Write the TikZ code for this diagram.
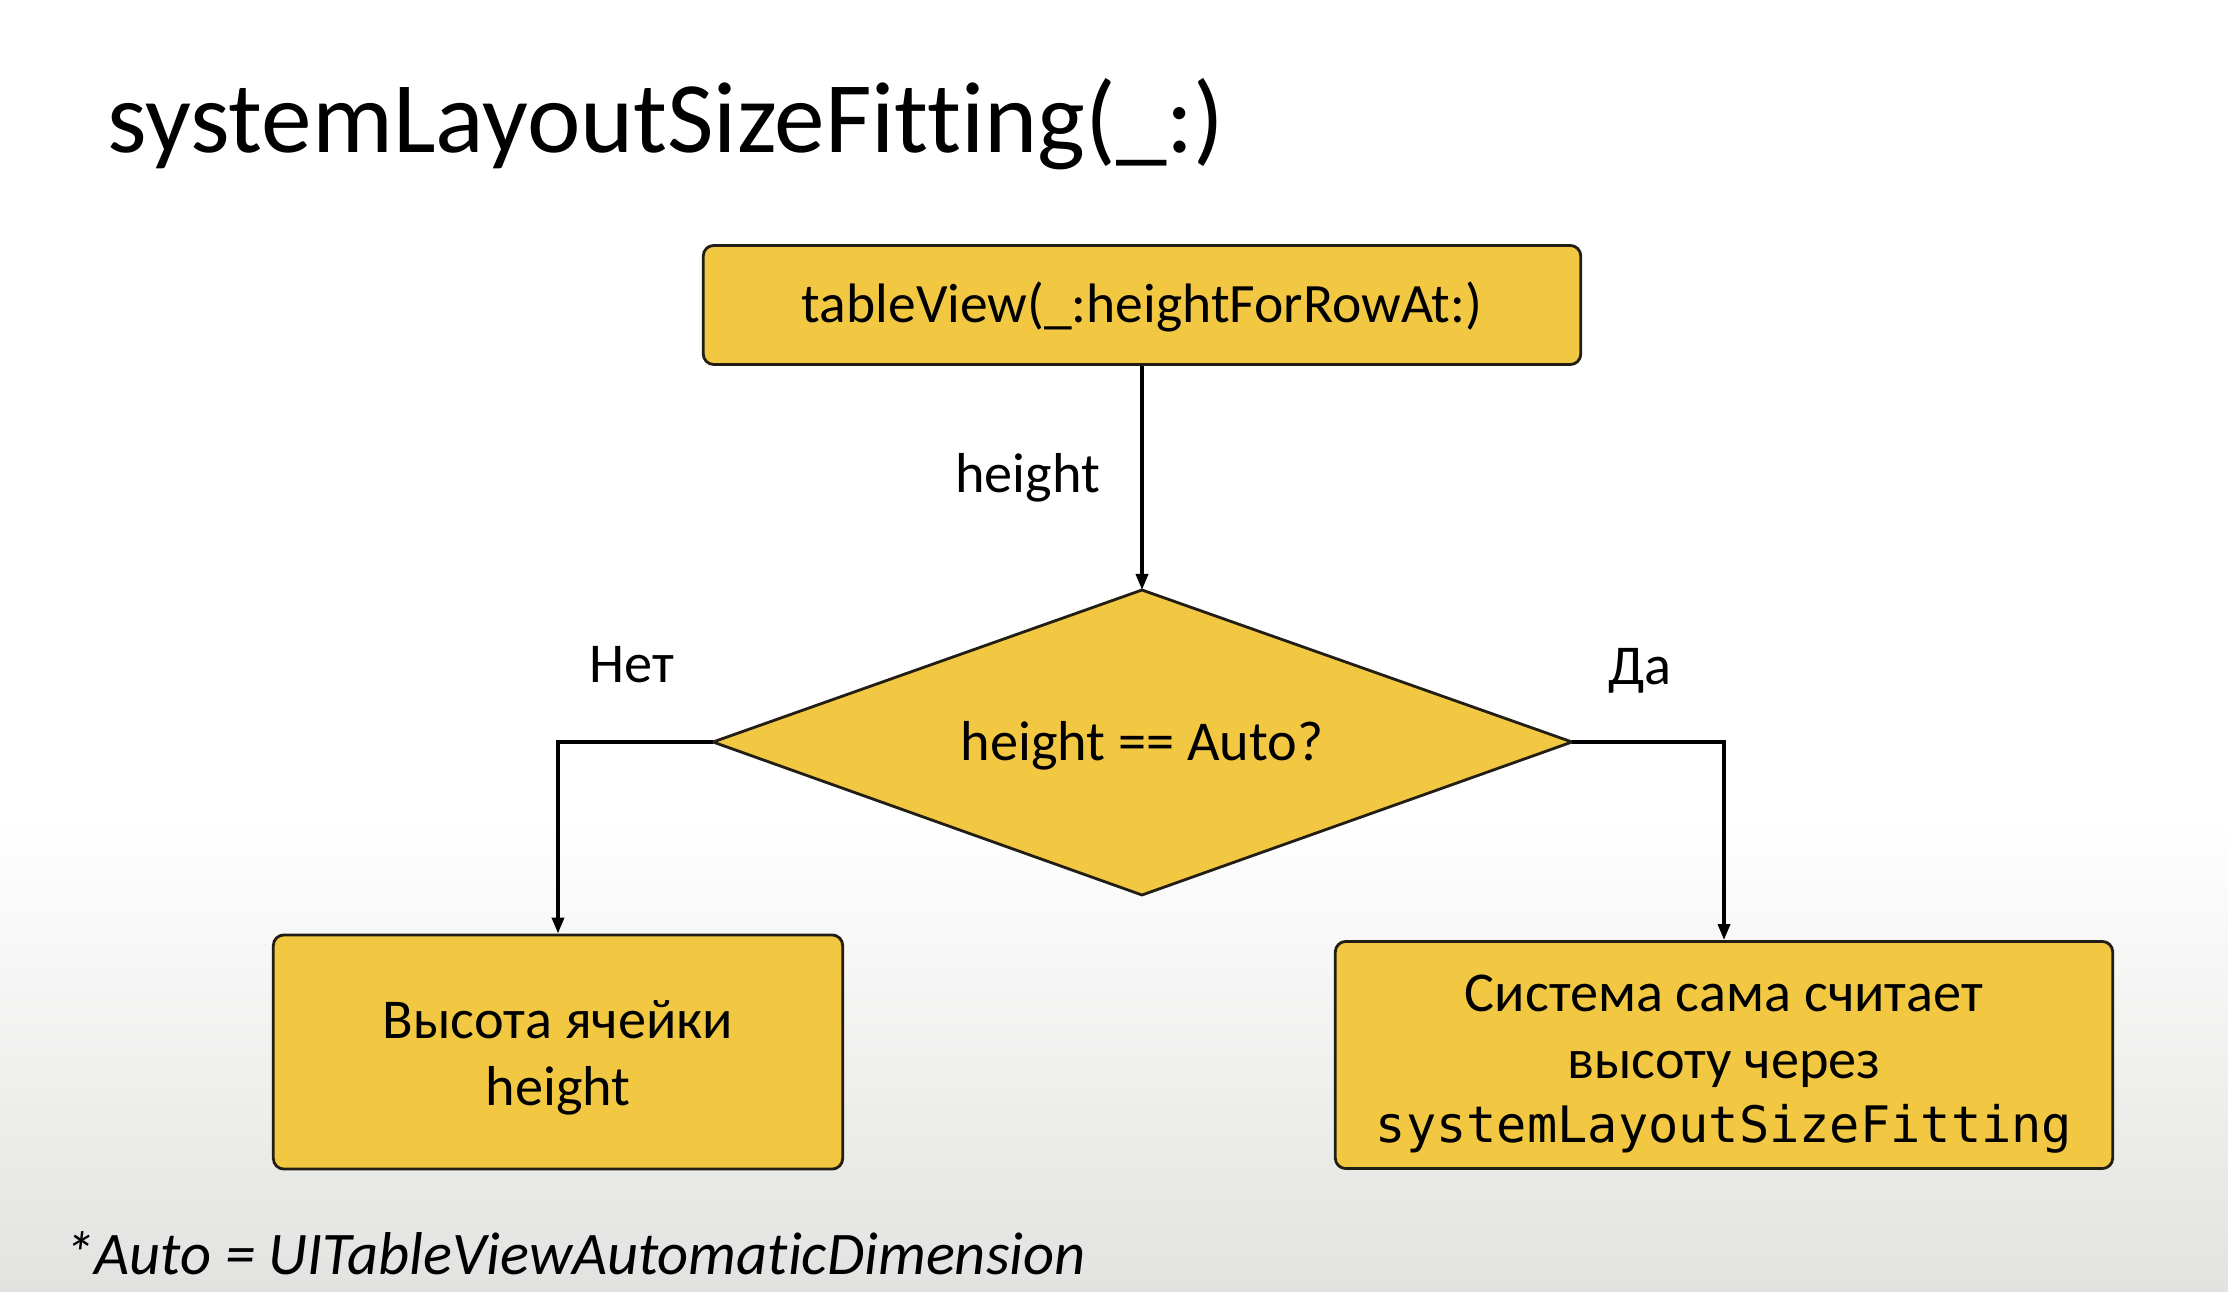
\documentclass[tikz,border=0pt]{standalone}
\usepackage{fontspec}
\setmainfont{Carlito}[Ligatures=NoCommon]
\setmonofont{DejaVu Sans Mono}
\usetikzlibrary{arrows.meta}
\definecolor{boxfill}{RGB}{242,200,66}
\definecolor{boxline}{RGB}{35,30,20}
\definecolor{bggray}{RGB}{226,226,224}
\tikzset{
  flowbox/.style={draw=boxline, fill=boxfill, line width=0.8pt, rounded corners=3pt,
    align=center, inner sep=0pt, font=\fontsize{16}{19}\selectfont},
  decisionshape/.style={draw=boxline, fill=boxfill, line width=0.8pt, line join=miter},
  decisiontext/.style={inner sep=0pt, font=\fontsize{16}{19}\selectfont},
  flowarrow/.style={draw=black, line width=1pt, -{Triangle[length=0.16cm,width=0.12cm]}},
  edgelabel/.style={font=\fontsize{16}{19}\selectfont, inner sep=0pt},
  heading/.style={font=\fontsize{28.8}{34}\selectfont, inner sep=0pt},
  footnote/.style={font=\fontsize{17.2}{20}\selectfont\itshape, inner sep=0pt}
}
\begin{document}
\begin{tikzpicture}[x=0.01cm, y=-0.01cm]
  % page background: white fading to light grey towards the bottom
  \fill[white] (0,0) rectangle (2228,1292);
  \shade[top color=white, bottom color=bggray] (0,820) rectangle (2228,1292);
  \useasboundingbox (0,0) rectangle (2228,1292);

  % heading
  \node[heading, anchor=base west] (title) at (107,153) {systemLayoutSizeFitting(\_:)};

  % start box
  \node[flowbox, font=\fontsize{15.8}{19}\selectfont,
        minimum width=8.77cm, minimum height=1.19cm] (start) at (1142,305)
    {\rule{0pt}{12.5pt}tableView(\_:heightForRowAt:)};

  % decision diamond
  \coordinate (checkN) at (1142,590);
  \coordinate (checkS) at (1142,895);
  \coordinate (checkW) at (713,742);
  \coordinate (checkE) at (1572,742);
  \path[decisionshape] (checkW) -- (checkN) -- (checkE) -- (checkS) -- cycle;
  \node[decisiontext] (check) at (1142,746) {height == Auto?};

  % result boxes
  \node[flowbox, minimum width=5.69cm, minimum height=2.34cm] (fixed) at (558,1052)
    {\rule{0pt}{14.3pt}Высота ячейки\\height};
  \node[flowbox, minimum width=7.77cm, minimum height=2.27cm] (auto) at (1724,1055)
    {\rule{0pt}{15.5pt}Система сама считает\\высоту через\\[-0.03cm]{\fontsize{14.3}{19}\selectfont\ttfamily systemLayoutSizeFitting}};

  % connectors
  \draw[flowarrow] (start.south) -- (checkN)
    node[edgelabel, midway, left=0.4cm] (hlabel) {height};
  \draw[flowarrow] (checkW) -| (fixed.north);
  \draw[flowarrow] (checkE) -| (auto.north);

  % branch labels
  \node[edgelabel] (no) at (632,665) {Нет};
  \node[edgelabel] (yes) at (1640,671) {Да};

  % footnote
  \node[footnote, anchor=west] (note) at (64,1253) {*Auto = UITableViewAutomaticDimension};
\end{tikzpicture}
\end{document}
